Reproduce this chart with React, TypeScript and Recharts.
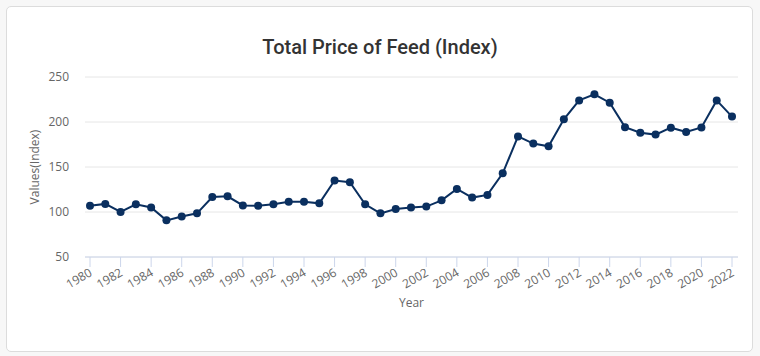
import { LineChart, Line, XAxis, YAxis, CartesianGrid } from "recharts";

// Total price of feed index, 1980-2022
const years = [
  "1980", "1981", "1982", "1983", "1984", "1985", "1986", "1987", "1988", "1989",
  "1990", "1991", "1992", "1993", "1994", "1995", "1996", "1997", "1998", "1999",
  "2000", "2001", "2002", "2003", "2004", "2005", "2006", "2007", "2008", "2009",
  "2010", "2011", "2012", "2013", "2014", "2015", "2016", "2017", "2018", "2019",
  "2020", "2021", "2022",
];
const feedIndex = [
  107, 109, 100, 108.5, 105, 90.7, 95, 98.5, 116.7, 117.4,
  107.3, 107, 108.5, 111.4, 111.4, 109.6, 135, 133, 108.5, 98.5,
  103.3, 105, 106, 113, 125.6, 116, 119, 143, 184, 176,
  173, 203, 224, 230.7, 221.4, 194.3, 188, 186, 193.7, 189,
  194, 224, 206,
];
const yTicks = [50, 100, 150, 200, 250];

const data = years.map((y, i) => ({ year: y, value: feedIndex[i] }));

const FONT = "'Open Sans', sans-serif";
const NAVY = "#0a2f5f";

const XTick = (props: any) => {
  const { x, y, payload } = props;
  return (
    <g transform={`translate(${x + 3},${y + 6})`}>
      <text transform="rotate(-30)" textAnchor="end" fill="#666" fontSize={12} fontFamily={FONT}>
        {payload.value}
      </text>
    </g>
  );
};

const YLabel = (props: any) => {
  const vb = props.viewBox;
  const cx = vb.x + 39;
  const cy = vb.y + vb.height / 2;
  return (
    <text x={cx} y={cy} transform={`rotate(-90,${cx},${cy})`} textAnchor="middle" fill="#666" fontSize={12} fontFamily={FONT}>
      Values(Index)
    </text>
  );
};

const XLabel = (props: any) => {
  const vb = props.viewBox;
  return (
    <text x={vb.x + vb.width / 2} y={vb.y + 50} textAnchor="middle" fill="#666" fontSize={12} fontFamily={FONT}>
      Year
    </text>
  );
};

export default function App() {
  return (
    <div style={{ position: "fixed", left: 0, top: 0, width: 760, height: 356, background: "#f7f7f7" }}>
      <div
        style={{
          position: "absolute", left: 6, top: 6, width: 745, height: 344,
          background: "#fff", border: "1px solid #dcdcdc", borderRadius: 5,
        }}
      />
      <div
        style={{
          position: "absolute", left: 0, top: 37, width: 760, textAlign: "center",
          fontFamily: "Roboto, sans-serif", fontSize: 20, lineHeight: "20px", color: "#333", fontWeight: 500,
        }}
      >
        Total Price of Feed (Index)
      </div>
      <div style={{ position: "absolute", left: 0, top: 0 }}>
        <LineChart width={760} height={356} data={data} margin={{ top: 77, right: 22, bottom: 0, left: 0 }}>
          <CartesianGrid vertical={false} stroke="#e6e6e6" />
          <XAxis
            dataKey="year"
            height={99}
            interval={1}
            padding={{ left: 5, right: 6 }}
            stroke="#ccd6eb"
            tickSize={10}
            tick={<XTick />}
            label={<XLabel />}
          />
          <YAxis
            width={85}
            domain={[50, 250]}
            ticks={yTicks}
            axisLine={false}
            tickLine={false}
            tickMargin={10}
            tick={{ fill: "#666", fontSize: 12, fontFamily: FONT }}
            label={<YLabel />}
          />
          <Line
            type="linear"
            dataKey="value"
            stroke={NAVY}
            strokeWidth={2}
            dot={{ r: 4, fill: NAVY, stroke: NAVY, strokeWidth: 0 }}
            isAnimationActive={false}
          />
        </LineChart>
      </div>
    </div>
  );
}
